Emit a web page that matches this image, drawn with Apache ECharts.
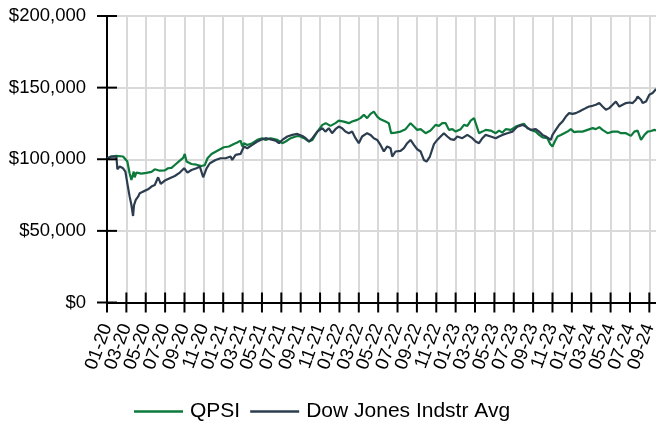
<!DOCTYPE html>
<html><head><meta charset="utf-8">
<script src="https://cdn.jsdelivr.net/npm/echarts@6/dist/echarts.min.js"></script>
<style>html,body{margin:0;padding:0;overflow:hidden;background:#fff;width:656px;height:428px}#c{width:680px;height:428px}</style>
</head><body><div id="c"></div>
<script>
// x values: months since 1 Jan 2020
const seriesNames = ['QPSI', 'Dow Jones Indstr Avg'];
const qpsiMonths = [0,0.45,0.97,1.66,2.1,2.34,2.52,2.76,2.86,3.03,3.55,4.07,4.59,4.93,5.45,5.97,6.31,6.66,7.0,7.52,7.86,8.03,8.21,8.72,9.24,9.76,10.1,10.38,10.79,11.35,12.07,12.59,13.1,13.45,13.79,13.97,14.14,14.48,15.0,15.52,16.03,16.38,16.9,17.59,18.1,18.45,18.97,19.48,19.83,20.34,20.86,21.21,21.72,22.24,22.59,23.07,23.59,23.93,24.45,24.97,25.31,25.83,26.17,26.52,26.86,27.21,27.55,27.9,28.24,28.76,29.1,29.34,29.79,30.31,30.83,31.34,31.69,32.03,32.38,32.9,33.41,33.93,34.28,34.62,34.97,35.31,35.66,36.0,36.52,36.86,37.21,37.55,37.9,38.07,38.24,38.41,38.76,39.1,39.62,40.14,40.48,40.83,41.17,41.69,42.21,42.72,43.07,43.41,43.76,44.28,44.62,44.97,45.48,45.76,46.0,46.24,46.52,46.86,47.21,47.55,47.9,48.24,48.59,49.1,49.62,50.14,50.48,50.83,51.17,51.69,52.21,52.72,53.07,53.59,54.1,54.45,54.79,55.14,55.48,55.83,56.17,56.52,56.7];
const qpsiValues = [100500,101900,102300,101900,98400,90000,85500,91400,87400,90700,90000,90500,91200,93000,92000,92200,93700,94000,96000,99000,101000,103700,98400,96700,96200,95300,95900,100700,103700,105800,108400,108900,110700,111700,113000,108900,111200,110000,111200,113500,114700,113500,114700,113500,111200,112400,114700,115900,116300,114700,112400,113500,119300,124000,125200,123300,125200,127000,126300,125200,126300,127500,128700,131000,128700,131700,133300,129800,127900,126300,125200,118200,118600,119300,121000,125200,122800,120500,121000,118200,120000,124000,123300,125200,125200,120500,121000,119300,121000,124000,123300,127000,128700,129400,121700,118200,119300,120500,120000,118200,120000,118600,121000,120500,122800,124000,124700,121700,120500,119300,117000,115300,114700,110700,108900,112400,115900,117000,118200,119300,121000,118900,119300,119300,120500,121700,121000,122400,120500,118200,119300,119300,118200,118200,116300,119300,120000,113500,116900,119300,119700,120500,120000];
const dowMonths = [0,0.45,0.97,1.07,1.31,1.66,1.9,2.1,2.34,2.52,2.69,2.79,2.97,3.21,3.38,3.72,4.24,4.59,4.93,5.28,5.55,5.97,6.48,7.0,7.52,7.97,8.31,8.72,9.24,9.59,9.93,10.28,10.62,11.21,11.72,12.24,12.76,12.93,13.28,13.79,14.14,14.48,15.0,15.52,15.86,16.38,16.9,17.41,17.76,18.1,18.62,19.14,19.66,20.17,20.52,20.86,21.21,21.72,22.24,22.55,22.9,23.24,23.59,23.93,24.28,24.62,24.97,25.31,25.66,26.0,26.34,26.86,27.21,27.55,27.9,28.24,28.59,28.93,29.28,29.45,29.79,30.31,30.66,31.0,31.34,31.69,32.03,32.38,32.72,33.0,33.34,33.76,34.1,34.45,34.79,35.14,35.48,35.83,36.17,36.69,37.21,37.72,38.07,38.41,38.76,39.1,39.62,40.14,40.48,40.83,41.34,41.86,42.38,42.9,43.24,43.76,44.28,44.62,44.97,45.31,45.48,45.83,46.0,46.34,46.69,47.03,47.38,47.72,48.07,48.41,48.76,49.1,49.45,49.79,50.14,50.48,50.83,51.17,51.52,51.86,52.21,52.55,52.9,53.24,53.59,53.93,54.28,54.62,54.79,55.14,55.31,55.66,56.0,56.34,56.7];
const dowValues = [100500,101900,101900,93000,94900,93700,91400,83200,73900,68000,60400,68000,71600,73900,76200,77400,79000,80900,82000,87400,82800,85100,86700,88300,90700,93700,90700,92500,93700,94900,87400,93700,97200,99500,100700,100700,101900,99500,103000,103700,108900,107700,110000,112400,113500,114700,113900,113000,111200,113500,115900,117000,117700,116300,114700,112400,114700,119300,121700,119300,121700,118200,121000,122800,121700,119300,118200,119300,114700,111200,115900,118200,117000,114700,113500,110000,105400,109000,107700,101900,105400,105800,107700,111200,113500,110000,107000,105400,99500,98400,101900,110600,113500,115900,118200,115900,114000,113500,115900,114700,117000,114700,112400,111200,114700,117000,115900,114700,115900,117000,118200,119300,122800,124000,122800,120500,121000,119300,117000,115900,114700,113500,117000,120500,124000,126300,129800,132200,131700,132200,133300,134500,135700,136800,137300,138000,139200,136800,134500,135700,138000,140300,136800,138000,139200,139600,139200,141500,143800,141500,139200,140300,145000,146200,149000];
const yMin = 0, yMax = 200000, yStep = 50000;
const xMin = 0, xMax = 58, xStep = 2, firstLabelMonth = 0, lastLabelMonth = 56;
const xTickMonths = [];
for (let m = firstLabelMonth; m <= lastLabelMonth; m += xStep) xTickMonths.push(m);
const yTickValues = [];
for (let v = yMin; v <= yMax; v += yStep) yTickValues.push(v);

const FONT = "'Liberation Sans', Arial, sans-serif";
const pair = (xs, ys) => xs.map((x, i) => [x, ys[i]]);
const monthLabel = m => String(m % 12 + 1).padStart(2, '0') + '-' + String(20 + Math.floor(m / 12));
// blank guard labels at both ends keep the real first/last labels from being auto-hidden
const EPS = 0.002;
const labelValues = [firstLabelMonth].concat(xTickMonths.map((m, i) =>
  i === 0 ? m + EPS : (i === xTickMonths.length - 1 ? m - EPS : m)), [lastLabelMonth]);
const xLabel = v => {
  if (v === firstLabelMonth || v === lastLabelMonth) return '';
  return monthLabel(Math.round(v));
};
const yLabel = v => '$' + v.toLocaleString('en-US');

const chart = echarts.init(document.getElementById('c'));
const option = {
  animation: false,
  backgroundColor: '#fff',
  textStyle: {fontFamily: FONT},
  grid: {left: 107, top: 16, width: 561.7, height: 286.5, containLabel: false},
  xAxis: {
    type: 'value', min: xMin, max: xMax, interval: xStep, position: 'bottom',
    axisLine: {show: true, onZero: false, lineStyle: {color: '#000', width: 2}},
    axisTick: {show: false},
    splitLine: {show: true, lineStyle: {color: '#d9d9d9', width: 2}},
    axisLabel: {rotate: 70, fontSize: 18.5, color: '#000', fontFamily: FONT, margin: 22,
                customValues: labelValues, formatter: xLabel}
  },
  yAxis: {
    type: 'value', min: yMin, max: yMax, interval: yStep, position: 'left',
    axisLine: {show: true, onZero: false, lineStyle: {color: '#000', width: 2}},
    axisTick: {show: false},
    splitLine: {show: true, lineStyle: {color: '#d9d9d9', width: 2}},
    axisLabel: {fontSize: 18.5, color: '#000', fontFamily: FONT, margin: 21, formatter: yLabel}
  },
  legend: {
    left: 134, top: 401, padding: 0, itemWidth: 49, itemHeight: 2.5, itemGap: 10, icon: 'rect',
    textStyle: {fontSize: 21, color: '#000', fontFamily: FONT, padding: [0, 0, 0, 2]},
    data: seriesNames
  },
  series: [
    {name: seriesNames[0], type: 'line', symbol: 'none', data: pair(qpsiMonths, qpsiValues),
     lineStyle: {color: '#0b7a3b', width: 2.2}, itemStyle: {color: '#0b7a3b'}, z: 3},
    {name: seriesNames[1], type: 'line', symbol: 'none', data: pair(dowMonths, dowValues),
     lineStyle: {color: '#2b3d4f', width: 2.2}, itemStyle: {color: '#2b3d4f'}, z: 4}
  ]
};
chart.setOption(option);

// tick marks crossing the axis lines, placed through the chart's own scales
const HALF = 10;
const ticks = [];
const origin = chart.convertToPixel({gridIndex: 0}, [xMin, yMin]);
xTickMonths.forEach(m => {
  const p = chart.convertToPixel({gridIndex: 0}, [m, yMin]);
  ticks.push({type: 'line', z: 10, silent: true,
    shape: {x1: p[0], y1: origin[1] - HALF, x2: p[0], y2: origin[1] + HALF},
    style: {stroke: '#000', lineWidth: 2}});
});
yTickValues.forEach(v => {
  const p = chart.convertToPixel({gridIndex: 0}, [xMin, v]);
  ticks.push({type: 'line', z: 10, silent: true,
    shape: {x1: origin[0] - HALF, y1: p[1], x2: origin[0] + HALF, y2: p[1]},
    style: {stroke: '#000', lineWidth: 2}});
});
chart.setOption({graphic: ticks});
</script></body></html>
